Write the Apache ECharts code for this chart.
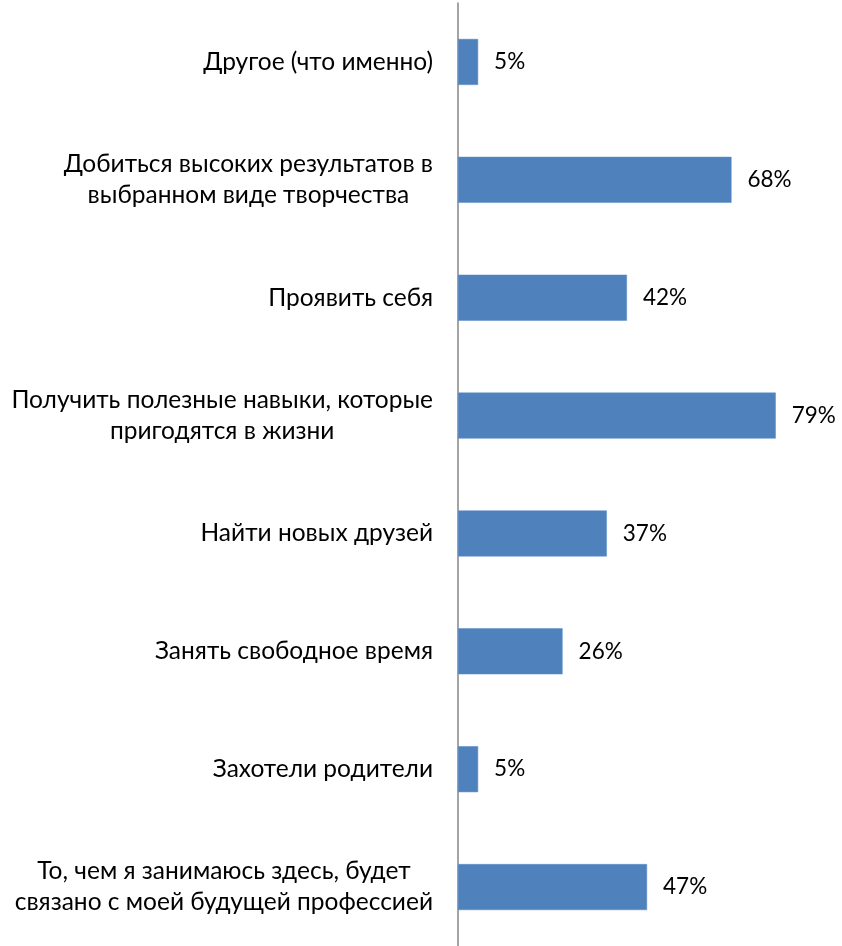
<!DOCTYPE html>
<html>
<head>
<meta charset="utf-8">
<script src="https://cdn.jsdelivr.net/npm/echarts@6/dist/echarts.min.js"></script>
<style>html,body{margin:0;padding:0;background:#fff;}#c{width:842px;height:946px;}</style>
</head>
<body>
<div id="c"></div>
<script>
const categories = [
  'Другое (что именно)',
  'Добиться высоких результатов в\nвыбранном виде творчества',
  'Проявить себя',
  'Получить полезные навыки, которые\nпригодятся в жизни',
  'Найти новых друзей',
  'Занять свободное время',
  'Захотели родители',
  'То, чем я занимаюсь здесь, будет\nсвязано с моей будущей профессией'
];
const values = [5, 68, 42, 79, 37, 26, 5, 47];

const chart = echarts.init(document.getElementById('c'), null, {renderer: 'canvas'});
const FONT = 'Lato';
chart.setOption({
  animation: false,
  grid: {left: 458, top: 3, width: 362, height: 943, containLabel: false},
  xAxis: {
    type: 'value', min: 0, max: 90,
    show: false
  },
  yAxis: {
    type: 'category',
    data: categories,
    inverse: true,
    axisLine: {show: true, lineStyle: {color: '#868686', width: 1.5}},
    axisTick: {show: false},
    axisLabel: {
      margin: 25,
      align: 'right',
      formatter: function (v) { return '{a|' + v.split('\n').join('}\n{a|') + '}'; },
      rich: {a: {align: 'center', fontFamily: FONT, fontSize: 24.5, color: '#000', lineHeight: 31}}
    }
  },
  series: [{
    type: 'bar',
    data: values,
    barWidth: 46,
    itemStyle: {color: '#4F81BD', borderColor: '#5B8CC8', borderWidth: 0.5},
    label: {
      show: true, position: 'right', distance: 16,
      formatter: '{c}%',
      fontFamily: FONT, fontSize: 22.5, color: '#000'
    }
  }]
});
</script>
</body>
</html>
